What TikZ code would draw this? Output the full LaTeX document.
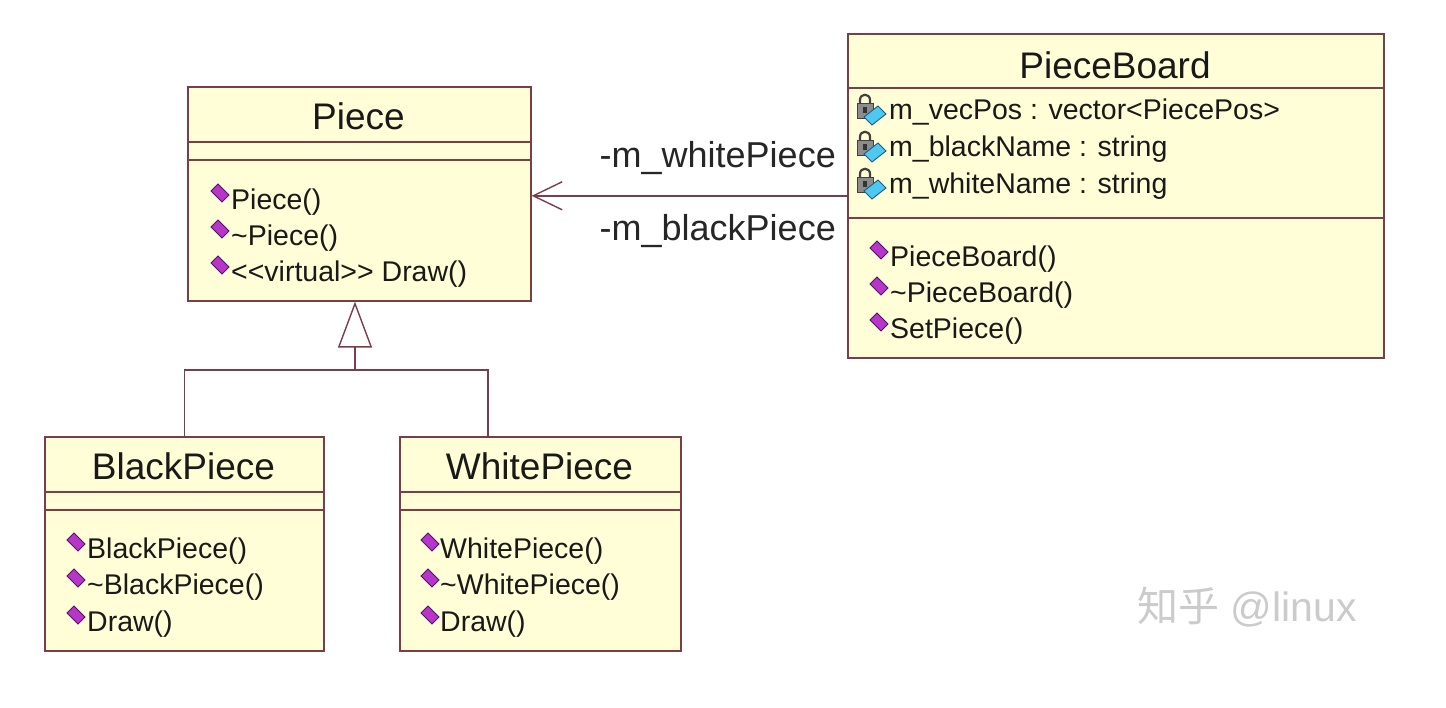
\documentclass[tikz,border=0pt]{standalone}
\usepackage{fontspec}
\setmainfont{Liberation Sans}
\newfontfamily\cjkfont{Noto Sans CJK SC}
\usetikzlibrary{arrows.meta,calc}
\definecolor{boxfill}{HTML}{FFFED6}
\definecolor{boxline}{HTML}{7A3E4A}
\definecolor{methfill}{HTML}{B536C8}
\definecolor{methdark}{HTML}{5A1066}
\definecolor{attrfill}{HTML}{4FC8F0}
\definecolor{attrdark}{HTML}{1A5C8A}
\definecolor{lockfill}{HTML}{8C8C8C}
\definecolor{wmark}{HTML}{CBCBCB}
\begin{document}
\begin{tikzpicture}[x=1pt,y=-1pt,
  classbox/.style={draw=boxline, fill=boxfill, line width=1.6pt, rectangle, inner sep=0pt, anchor=north west},
  classtitle/.style={inner sep=0pt, text=black!90, font=\fontsize{37}{42}\selectfont},
  member/.style={inner sep=0pt, anchor=west, text=black!90, font=\fontsize{28.5}{32}\selectfont},
  rolelabel/.style={inner sep=0pt, anchor=east, text=black!85, font=\fontsize{36}{40}\selectfont},
  sep/.style={draw=boxline, line width=1.6pt},
  conn/.style={draw=boxline, line width=1.6pt},
  methicon/.pic={\filldraw[draw=methdark, fill=methfill, line width=0.9pt] (-9,-3) -- (-2,-10) -- (9,1) -- (2,8) -- cycle;},
  attricon/.pic={
    \draw[draw=black!75, line width=2.2pt] (-15,-13) -- (-15,-16) .. controls (-15,-23) and (-5,-23) .. (-5,-16) -- (-5,-13);
    \filldraw[fill=lockfill, draw=black!75, line width=0.9pt] (-18,-13) rectangle (-2,2);
    \fill[black!80] (-12,-9) rectangle (-8,-3);
    \filldraw[draw=attrdark, fill=attrfill, line width=0.9pt] (-11,1) -- (3,-10) -- (11,-2) -- (-3,9) -- cycle;}
]
\useasboundingbox[fill=white] (0,0) rectangle (1446,708);

% ---------- Piece ----------
\node[classbox, minimum width=343pt, minimum height=214pt] (Piece) at (187,86) {};
\node[classtitle] (PieceT) at (358.5,116) {Piece};
\draw[sep] ($(Piece.north west)+(0,56)$) -- ($(Piece.north east)+(0,56)$);
\draw[sep] ($(Piece.north west)+(0,74)$) -- ($(Piece.north east)+(0,74)$);
\pic at (220,194) {methicon};
\node[member] (Pm1) at (231,202) {Piece()};
\pic at (220,230) {methicon};
\node[member] (Pm2) at (231,238) {\char`\~Piece()};
\pic at (220,266) {methicon};
\node[member] (Pm3) at (231,274) {<{}<virtual>{}> Draw()};

% ---------- PieceBoard ----------
\node[classbox, minimum width=536pt, minimum height=324pt] (Board) at (847,33) {};
\node[classtitle] (BoardT) at (1115,65) {PieceBoard};
\draw[sep] ($(Board.north west)+(0,55)$) -- ($(Board.north east)+(0,55)$);
\draw[sep] ($(Board.north west)+(0,185)$) -- ($(Board.north east)+(0,185)$);
\pic at (875,116) {attricon};
\node[member] (Ba1) at (889,112) {m\_vecPos : vector<PiecePos>};
\pic at (875,153) {attricon};
\node[member] (Ba2) at (889,149) {m\_blackName : string};
\pic at (875,190) {attricon};
\node[member] (Ba3) at (889,186) {m\_whiteName : string};
\pic at (879,251) {methicon};
\node[member] (Bm1) at (890,259) {PieceBoard()};
\pic at (879,287) {methicon};
\node[member] (Bm2) at (890,295) {\char`\~PieceBoard()};
\pic at (879,323) {methicon};
\node[member] (Bm3) at (890,331) {SetPiece()};

% ---------- BlackPiece ----------
\node[classbox, minimum width=279pt, minimum height=214pt] (Black) at (44,436) {};
\node[classtitle] (BlackT) at (183.5,466) {BlackPiece};
\draw[sep] ($(Black.north west)+(0,56)$) -- ($(Black.north east)+(0,56)$);
\draw[sep] ($(Black.north west)+(0,74)$) -- ($(Black.north east)+(0,74)$);
\pic at (76,543) {methicon};
\node[member] (Km1) at (87,551) {BlackPiece()};
\pic at (76,579) {methicon};
\node[member] (Km2) at (87,587) {\char`\~BlackPiece()};
\pic at (76,616) {methicon};
\node[member] (Km3) at (87,624) {Draw()};

% ---------- WhitePiece ----------
\node[classbox, minimum width=281pt, minimum height=214pt] (White) at (399,436) {};
\node[classtitle] (WhiteT) at (539.5,466) {WhitePiece};
\draw[sep] ($(White.north west)+(0,56)$) -- ($(White.north east)+(0,56)$);
\draw[sep] ($(White.north west)+(0,74)$) -- ($(White.north east)+(0,74)$);
\pic at (430,543) {methicon};
\node[member] (Wm1) at (440,551) {WhitePiece()};
\pic at (430,579) {methicon};
\node[member] (Wm2) at (440,587) {\char`\~WhitePiece()};
\pic at (430,616) {methicon};
\node[member] (Wm3) at (440,624) {Draw()};

% ---------- association ----------
\draw[conn, -{Straight Barb[length=29pt,width=28pt,line width=1.4pt]}] (Board.west) -- (Board.west -| Piece.east);
\node[rolelabel] (roleW) at (836,158) {-m\_whitePiece};
\node[rolelabel] (roleB) at (836,231) {-m\_blackPiece};

% ---------- generalization ----------
\coordinate (junc) at (355,370);
\coordinate (wtop) at (488,436);
\draw[conn, -{Triangle[open,length=46pt,width=34pt,line width=1.4pt]}] (junc) -- (junc |- Piece.south);
\draw[conn] (Black.north) |- (junc) -| (wtop);

% ---------- watermark ----------
\node[inner sep=0pt, text=wmark, font=\fontsize{41}{45}\selectfont] (wm) at (1247,607) {{\cjkfont 知乎} @linux};
\end{tikzpicture}
\end{document}
